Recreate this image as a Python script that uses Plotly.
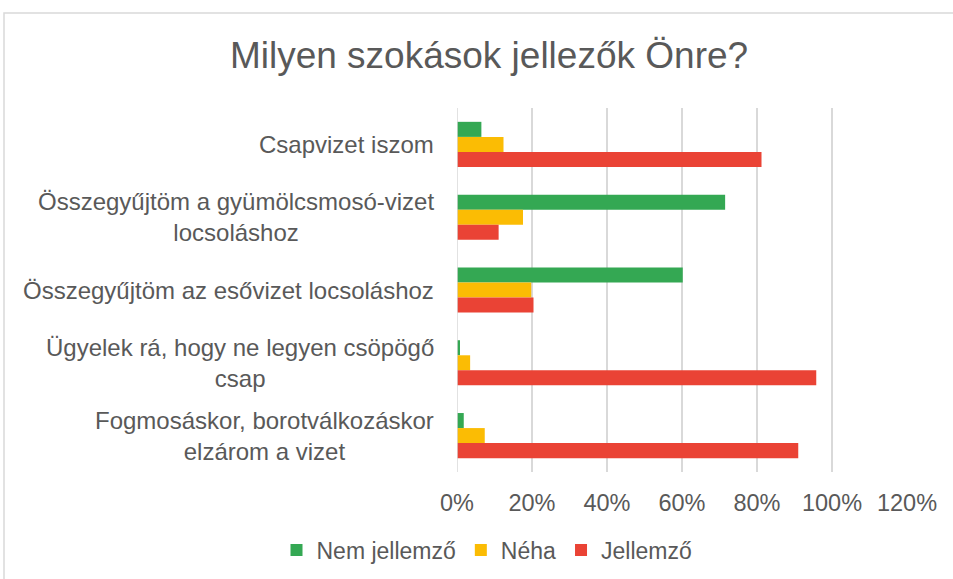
import plotly.graph_objects as go

categories = [
    "Csapvizet iszom",
    "Összegyűjtöm a gyümölcsmosó-vizet<br>locsoláshoz",
    "Összegyűjtöm az esővizet locsoláshoz",
    "Ügyelek rá, hogy ne legyen csöpögő<br>csap",
    "Fogmosáskor, borotválkozáskor<br>elzárom a vizet",
]
nem_jellemzo = [6.5, 71.5, 60.2, 0.8, 1.8]
neha = [12.4, 17.6, 19.8, 3.5, 7.4]
jellemzo = [81.2, 11.1, 20.4, 95.8, 91.0]
series_names = ["Nem jellemző", "Néha", "Jellemző"]
colors = ["#34A853", "#FBBC04", "#EA4335"]
x_ticks = [0, 20, 40, 60, 80, 100, 120]

fig = go.Figure()
for name, vals, col in zip(series_names, [nem_jellemzo, neha, jellemzo], colors):
    fig.add_trace(go.Bar(
        y=categories, x=vals, name=name, orientation="h",
        marker=dict(color=col, line=dict(width=0)),
        hoverinfo="x+name",
    ))

W, H = 953, 579
L, R, T, B = 457, 46, 108, 107
pw = W - L - R
ph = H - T - B

# Category labels as annotations so that wrapped lines are centred (as in the original)
annotations = [
    dict(text=c, xref="paper", yref="y", x=0, y=c, xanchor="right", yanchor="middle",
         xshift=-21, align="center", showarrow=False,
         font=dict(size=24, color="#595959"))
    for c in categories
]

fig.update_layout(
    width=W, height=H,
    margin=dict(l=L, r=R, t=T, b=B, autoexpand=False),
    paper_bgcolor="white", plot_bgcolor="white",
    barmode="group", bargap=0.38, bargroupgap=0,
    font=dict(family="Liberation Sans, Arial, sans-serif", color="#595959", size=23),
    title=dict(
        text="Milyen szokások jellezők Önre?",
        x=(489 - L) / pw, xref="paper", xanchor="center",
        y=1 - 55 / H, yanchor="middle",
        font=dict(size=37, color="#595959"),
    ),
    showlegend=True,
    legend=dict(
        orientation="h", x=(487 - L) / pw, xanchor="center",
        y=-(550 - (H - B)) / ph, yanchor="middle",
        font=dict(size=23, color="#595959"),
        traceorder="normal",
    ),
    xaxis=dict(
        range=[0, 120], tickvals=x_ticks, ticktext=[f"{v}%" for v in x_ticks],
        showgrid=True, gridcolor="#D9D9D9", gridwidth=1.5,
        zeroline=False, showline=False, ticks="",
        ticklabelstandoff=14,
        tickfont=dict(size=23.5, color="#595959"),
    ),
    yaxis=dict(
        autorange="reversed", showgrid=False, zeroline=False,
        showline=False, ticks="", showticklabels=False,
    ),
    annotations=annotations,
    shapes=[
        dict(type="line", xref="x", yref="paper", x0=0, x1=0, y0=0, y1=1,
             line=dict(color="#D9D9D9", width=1.5)),
        dict(type="rect", xref="paper", yref="paper",
             x0=(4 - L) / pw, x1=(990 - L) / pw,
             y0=-(600 - (H - B)) / ph, y1=((H - B) - 13) / ph,
             line=dict(color="#D9D9D9", width=1.5), fillcolor="rgba(0,0,0,0)",
             layer="below"),
    ],
)

fig.write_html(
    "out.html",
    config={"displayModeBar": False},
    post_script="document.body.style.margin='0';document.body.style.overflow='hidden';",
)
